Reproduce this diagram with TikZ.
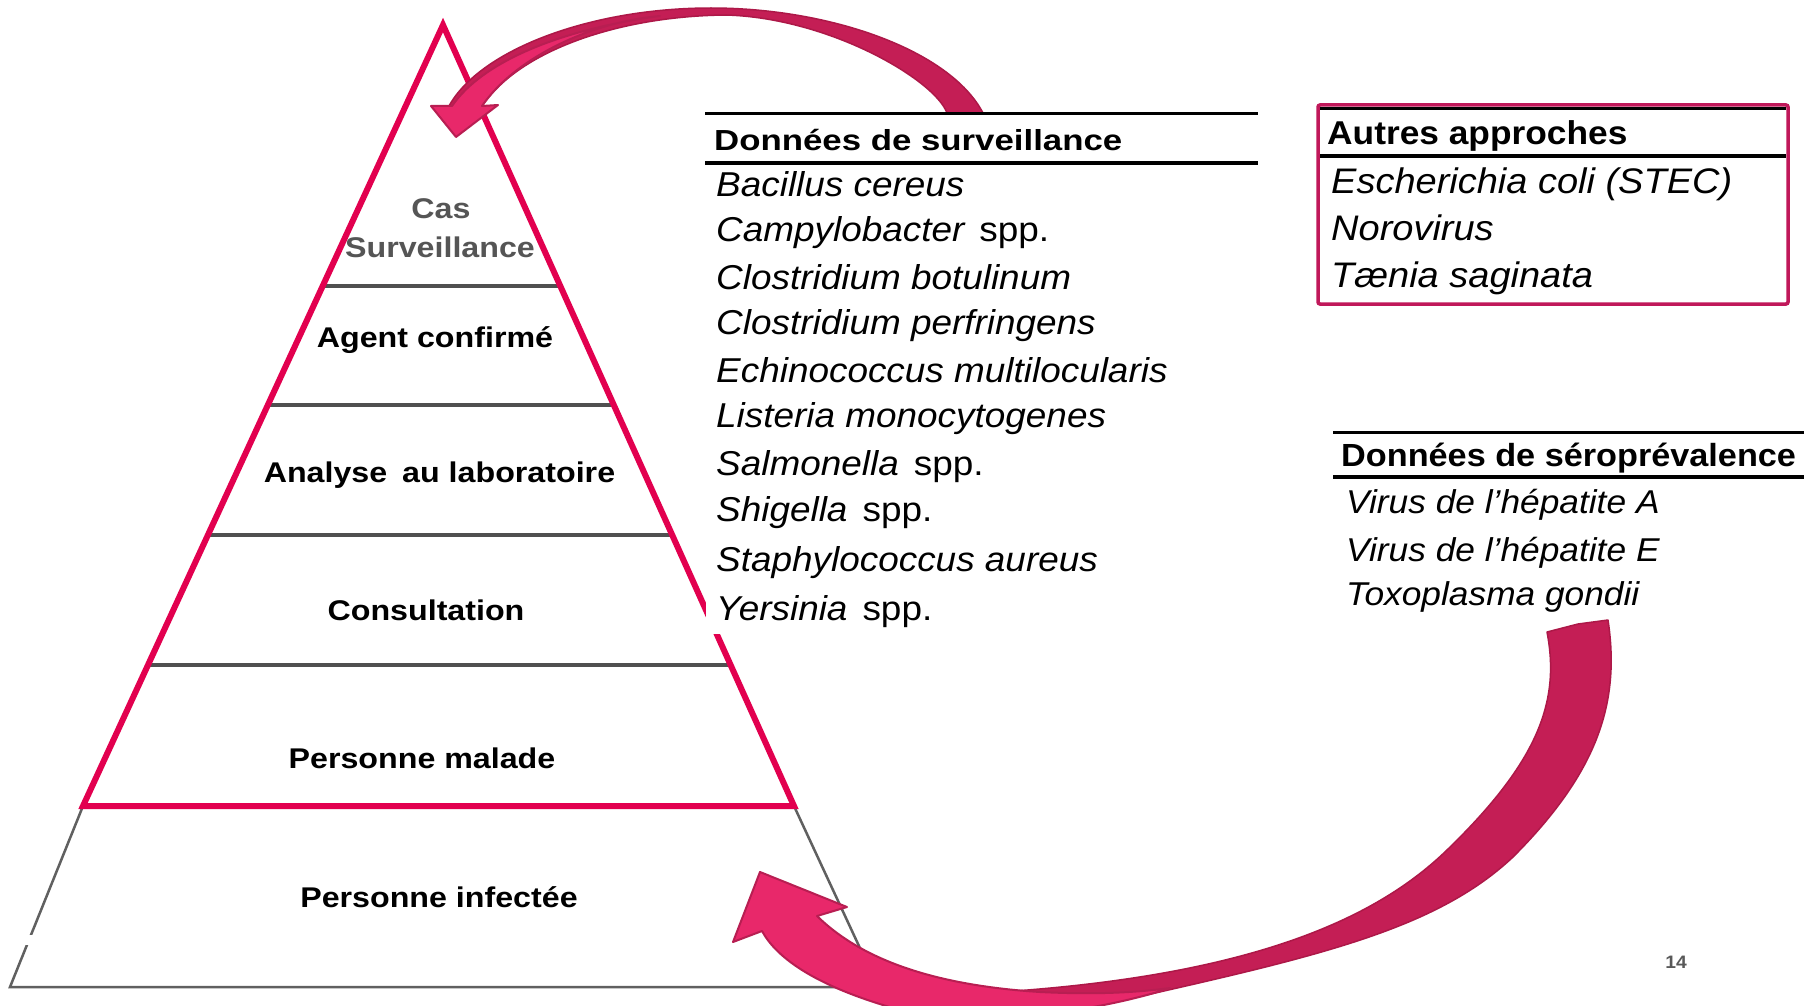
\documentclass[tikz,border=0pt]{standalone}
\usepackage{fontspec}
\setmainfont{Liberation Sans}[FakeStretch=1.07]
\newfontfamily\pyrfont{Liberation Sans}[FakeStretch=1.13]
\newfontfamily\widefont{Liberation Sans}[FakeStretch=1.2]
\usetikzlibrary{calc}
\definecolor{pyrred}{HTML}{E2004F}
\definecolor{darkband}{HTML}{C41E55}
\definecolor{bandline}{HTML}{AD1848}
\definecolor{pinkface}{HTML}{E8286A}
\definecolor{pinkline}{HTML}{B81E52}
\definecolor{boxred}{HTML}{C0185A}
\definecolor{lvlgray}{HTML}{505050}
\definecolor{edgegray}{HTML}{606060}
\definecolor{casgray}{HTML}{555555}
\definecolor{numgray}{HTML}{595959}
\tikzset{
  pyr/.style={font={\pyrfont\bfseries\fontsize{28.5}{34}\selectfont}, anchor=base, inner sep=0pt},
  lvl/.style={lvlgray, line width=4.5pt},
  item/.style={font={\fontsize{34.5}{40}\selectfont\itshape}, anchor=base west, inner sep=0pt},
  item2/.style={font={\fontsize{35.5}{40}\selectfont\itshape}, anchor=base west, inner sep=0pt},
  item3/.style={font={\fontsize{33}{40}\selectfont\itshape}, anchor=base west, inner sep=0pt},
  backband/.style={fill=darkband, draw=bandline, line width=1.5pt, line join=round},
  frontface/.style={fill=pinkface, draw=pinkline, line width=2pt, line join=round},
  rulethin/.style={black, line width=3pt},
  rulethick/.style={black, line width=4pt},
}
\newcommand{\sppgap}{\upshape\hspace{15pt}spp.}
\begin{document}
\begin{tikzpicture}[x=1pt,y=-1pt]
\useasboundingbox (0,0) rectangle (1804,1006);
\fill[white] (0,0) rectangle (1804,1006);

% pyramid corners
\coordinate (apex) at (443,25);
\coordinate (rl) at (83,806);
\coordinate (rr) at (794,806);
\coordinate (gl) at (10,987);
\coordinate (gr) at (878,987);

% outer gray pyramid
\draw[edgegray, line width=2.5pt] (rl) -- (gl) -- (gr) -- (rr);
\fill[white] (18,935) rectangle (42,945);

% level dividers
\draw[lvl] ($(apex)!0.3342!(rl)$) -- ($(apex)!0.3342!(rr)$);
\draw[lvl] ($(apex)!0.4866!(rl)$) -- ($(apex)!0.4866!(rr)$);
\draw[lvl] ($(apex)!0.6530!(rl)$) -- ($(apex)!0.6530!(rr)$);
\draw[lvl] ($(apex)!0.8195!(rl)$) -- ($(apex)!0.8195!(rr)$);

% red triangle
\draw[pyrred, line width=6pt, line join=miter] (apex) -- (rr) -- (rl) -- cycle;

% top curved arrow
\path[backband] (947,113) -- (983,113) .. controls (950,50) and (830,8) .. (711,8)
  .. controls (590,8) and (480,50) .. (449,106) -- (482,106)
  .. controls (520,50) and (620,16) .. (726,15)
  .. controls (830,18) and (935,80) .. (947,113) -- cycle;
\path[frontface] (452,106) .. controls (485,58) and (570,28) .. (660,16)
  .. controls (590,22) and (515,58) .. (482,106) -- (498,105) -- (456,137) -- (431,106) -- cycle;

% white panel of the surveillance list
\fill[white] (706,114) rectangle (1258,634);

% bottom curved arrow
\path[backband] (1547,632) -- (1578,624) -- (1608,620)
  .. controls (1620,700) and (1600,770) .. (1513,857)
  .. controls (1430,935) and (1300,960) .. (1080,1010) -- (1000,992)
  .. controls (1260,975) and (1380,915) .. (1447,850)
  .. controls (1540,760) and (1560,700) .. (1547,632) -- cycle;
\path[frontface] (762,931) .. controls (775,955) and (810,985) .. (900,1010)
  .. controls (1000,1030) and (1120,1005) .. (1170,988)
  .. controls (1140,992) and (1100,995) .. (1040,992)
  .. controls (930,985) and (860,958) .. (817,916)
  -- (847,907) -- (760,872) -- (733,942) -- cycle;

% pyramid labels
\node[pyr, text=casgray] (cas) at (441,218) {Cas};
\node[pyr, text=casgray] (surv) at (440,257) {Surveillance};
\node[pyr] (agent) at (435,347) {Agent confirmé};
\node[pyr] (analyse) at (439.5,482) {Analyse\hspace{6pt} au laboratoire};
\node[pyr] (consult) at (426,620) {Consultation};
\node[pyr] (malade) at (422,768) {Personne malade};
\node[pyr] (infect) at (439,907) {Personne infectée};

% surveillance list
\draw[rulethin] (705,114) -- (1258,114);
\draw[rulethick] (705,162.5) -- (1258,162.5);
\node[font={\widefont\bfseries\fontsize{29}{34}\selectfont}, anchor=base west, inner sep=0pt] (survhead) at (714,150) {Données de surveillance};
\node[item] (s1) at (716,196) {Bacillus cereus};
\node[item] (s2) at (716,241) {Campylobacter\sppgap};
\node[item] (s3) at (716,289) {Clostridium botulinum};
\node[item] (s4) at (716,334) {Clostridium perfringens};
\node[item] (s5) at (716,382) {Echinococcus multilocularis};
\node[item] (s6) at (716,427) {Listeria monocytogenes};
\node[item] (s7) at (716,475) {Salmonella\sppgap};
\node[item] (s8) at (716,521) {Shigella\sppgap};
\node[item] (s9) at (716,571) {Staphylococcus aureus};
\node[item] (s10) at (716,620) {Yersinia\sppgap};

% autres approches
\draw[rulethin] (1320,108.5) -- (1786,108.5);
\draw[rulethick] (1320,156) -- (1786,156);
\draw[boxred, line width=3.5pt, rounded corners=2pt] (1318,105) rectangle (1788,304);
\node[font={\bfseries\fontsize{33}{38}\selectfont}, anchor=base west, inner sep=0pt] (autreshead) at (1327,145) {Autres approches};
\node[item2] (a1) at (1331,193) {Escherichia coli (STEC)};
\node[item2] (a2) at (1331,240) {Norovirus};
\node[item2] (a3) at (1331,287) {Tænia saginata};

% seroprevalence
\draw[rulethin] (1333,432) -- (1804,432);
\draw[rulethick] (1333,477) -- (1804,477);
\node[font={\bfseries\fontsize{32}{38}\selectfont}, anchor=base west, inner sep=0pt] (serohead) at (1341,466) {Données de séroprévalence};
\node[item3] (v1) at (1346,513) {Virus de l’hépatite A};
\node[item3] (v2) at (1346,561) {Virus de l’hépatite E};
\node[item3] (v3) at (1346,605) {Toxoplasma gondii};

% page number
\node[font={\bfseries\fontsize{18}{20}\selectfont}, text=numgray, anchor=base, inner sep=0pt] (pagenum) at (1676,968) {14};
\end{tikzpicture}
\end{document}
